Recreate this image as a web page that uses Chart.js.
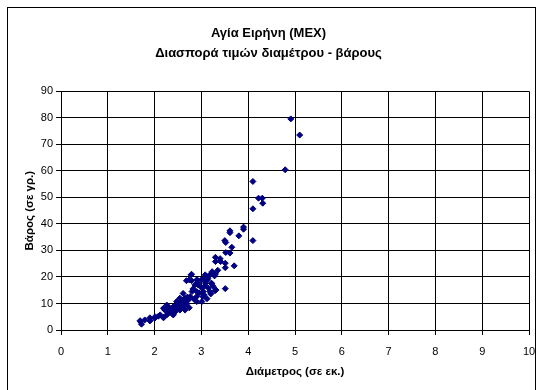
<!DOCTYPE html>
<html>
<head>
<meta charset="utf-8">
<script src="https://cdn.jsdelivr.net/npm/chart.js@4"></script>
<style>
  body { margin: 0; background: #fff; }
  #wrap { width: 537px; height: 390px; }
</style>
</head>
<body>
<div id="wrap"><canvas id="myChart" width="537" height="390"></canvas></div>
<script>
// Διάμετρος (σε εκ.) και Βάρος (σε γρ.) για κάθε καρπό
const diameters = [
  1.70, 1.72, 1.69, 1.79, 1.90, 1.90, 2.01, 2.12, 2.19, 2.26,
  2.22, 2.31, 2.33, 2.39, 2.40, 2.44, 2.47, 2.54, 2.61, 2.65,
  2.58, 2.65, 2.72, 2.74, 2.90, 2.76, 2.80, 2.90, 2.78, 2.74,
  2.90, 2.26, 2.19, 2.33, 2.44, 2.47, 2.54, 2.61, 2.65, 2.40,
  2.19, 2.00, 2.08, 2.29, 2.35, 2.50, 2.56, 2.68, 2.70, 2.84,
  2.86, 2.93, 3.01, 3.03, 2.90, 3.04, 3.07, 3.13, 3.04, 2.91,
  2.93, 3.21, 3.20, 3.31, 3.51, 3.18, 3.00, 3.09, 3.11, 3.08,
  3.18, 3.23, 3.30, 3.28, 2.79, 3.12, 3.15, 3.25, 3.30, 3.41,
  3.30, 3.40, 3.51, 3.51, 3.70, 3.52, 3.61, 3.65, 3.50, 3.52,
  3.61, 3.61, 3.80, 3.90, 3.90, 4.10, 4.10, 4.10, 4.22, 4.30,
  4.31, 4.79, 4.91, 5.10, 2.30, 2.42, 2.52, 2.60, 2.82, 2.95,
  3.00, 3.06, 3.14, 3.35, 2.68, 2.79, 3.22, 3.29
];
const weights = [
  3.1, 2.2, 3.5, 3.8, 4.6, 3.4, 5.0, 5.7, 4.6, 5.7,
  7.5, 8.2, 6.9, 5.9, 8.8, 6.9, 9.4, 7.5, 8.8, 7.5,
  10.5, 12.0, 11.3, 8.4, 10.7, 12.6, 14.5, 14.5, 20.8, 18.9,
  18.9, 9.4, 8.2, 8.2, 8.6, 10.7, 12.0, 13.8, 10.7, 5.7,
  4.8, 4.4, 5.2, 6.3, 7.8, 9.0, 8.0, 9.8, 12.4, 11.6,
  17.0, 17.0, 10.7, 12.6, 12.6, 14.5, 16.6, 18.9, 18.9, 18.9,
  17.6, 17.6, 13.6, 15.1, 15.6, 14.5, 18.9, 17.6, 20.2, 20.8,
  20.8, 22.0, 21.1, 20.4, 21.0, 11.8, 15.8, 16.5, 25.8, 25.8,
  27.4, 26.9, 25.2, 23.5, 24.2, 29.2, 29.0, 31.2, 33.7, 33.0,
  36.7, 37.4, 35.5, 38.8, 38.0, 33.7, 45.7, 56.0, 49.7, 49.7,
  47.8, 60.4, 79.6, 73.5, 7.2, 7.4, 10.0, 11.0, 15.5, 14.0,
  16.0, 13.2, 19.5, 22.5, 18.6, 18.6, 17.6, 14.8
];
const chartTitle = ['Αγία Ειρήνη (ΜΕΧ)', 'Διασπορά τιμών διαμέτρου - βάρους'];
const xTitle = 'Διάμετρος (σε εκ.)';
const yTitle = 'Βάρος (σε γρ.)';

const points = diameters.map((d, i) => ({ x: d, y: weights[i] }));

// λευκό φόντο και πλαίσιο γύρω από όλο το γράφημα
const frame = {
  id: 'frame',
  beforeDraw(chart) {
    const c = chart.ctx;
    c.save();
    c.fillStyle = '#fff';
    c.fillRect(0, 0, chart.width, chart.height);
    c.strokeStyle = '#000';
    c.lineWidth = 1;
    c.strokeRect(7.5, 7.5, 528, 400);
    c.restore();
  }
};

const font = 'Arial, "Liberation Sans", sans-serif';
const ctx = document.getElementById('myChart');

new Chart(ctx, {
  type: 'scatter',
  data: {
    datasets: [{
      data: points,
      pointStyle: 'rectRot',
      pointRadius: 3,
      borderWidth: 1,
      backgroundColor: '#000080',
      borderColor: '#000080'
    }]
  },
  options: {
    responsive: false,
    animation: false,
    layout: { padding: { left: 8, right: 8, top: 23, bottom: 0 } },
    plugins: {
      legend: { display: false },
      tooltip: { enabled: false },
      title: {
        display: true,
        text: chartTitle,
        color: '#000',
        font: { family: font, size: 13, weight: 'bold', lineHeight: 1.55 },
        padding: { top: 0, bottom: 28 }
      }
    },
    scales: {
      x: {
        type: 'linear',
        min: 0,
        max: 10,
        afterFit: s => { s.height = 60; s.paddingLeft = 0; s.paddingRight = 0; },
        ticks: { stepSize: 1, color: '#000', font: { family: font, size: 11 }, padding: 10, maxRotation: 0 },
        grid: { color: '#000', lineWidth: 1, tickLength: 5, tickColor: '#000' },
        border: { color: '#000' },
        title: {
          display: true,
          text: xTitle,
          color: '#000',
          font: { family: font, size: 11.5, weight: 'bold', lineHeight: 1.2 },
          padding: { top: 0, bottom: 11 }
        }
      },
      y: {
        min: 0,
        max: 90,
        afterFit: s => { s.width = 53; },
        ticks: { stepSize: 10, color: '#000', font: { family: font, size: 11 }, padding: 3 },
        grid: { color: '#000', lineWidth: 1, tickLength: 5, tickColor: '#000' },
        border: { color: '#000' },
        title: {
          display: true,
          text: yTitle,
          color: '#000',
          font: { family: font, size: 11.5, weight: 'bold', lineHeight: 1.2 },
          padding: { top: 15, bottom: 0 }
        }
      }
    }
  },
  plugins: [frame]
});
</script>
</body>
</html>
